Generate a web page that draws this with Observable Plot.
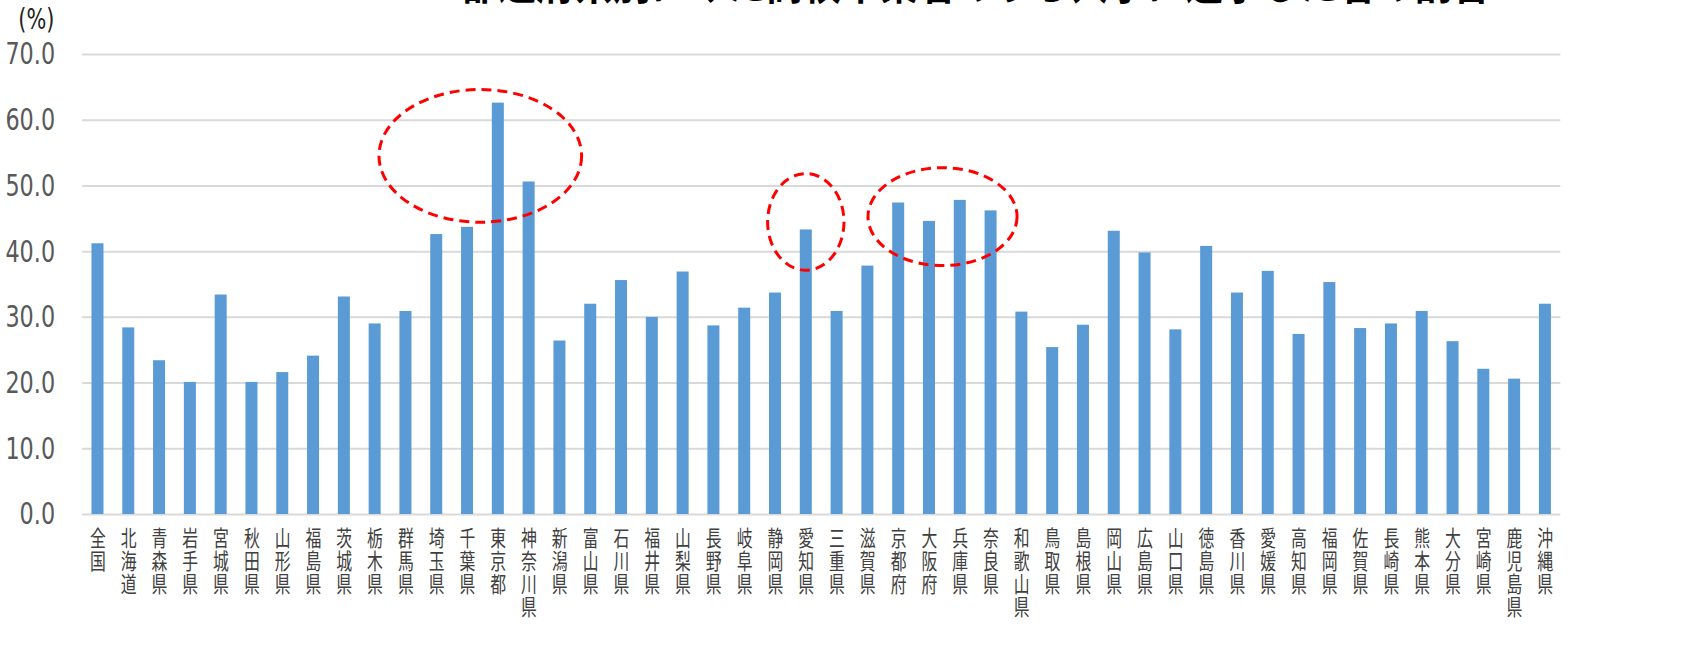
<!DOCTYPE html>
<html>
<head>
<meta charset="utf-8">
<script src="https://cdn.jsdelivr.net/npm/d3@7"></script>
<script src="https://cdn.jsdelivr.net/npm/@observablehq/plot@0.6"></script>
<style>
  html, body { margin: 0; padding: 0; background: #fff; }
  #chart { width: 1700px; height: 663px; overflow: hidden; }
</style>
</head>
<body>
<div id="chart"></div>
<script>
// ---- data ----
const prefectures = ["全国","北海道","青森県","岩手県","宮城県","秋田県","山形県","福島県","茨城県","栃木県","群馬県","埼玉県","千葉県","東京都","神奈川県","新潟県","富山県","石川県","福井県","山梨県","長野県","岐阜県","静岡県","愛知県","三重県","滋賀県","京都府","大阪府","兵庫県","奈良県","和歌山県","鳥取県","島根県","岡山県","広島県","山口県","徳島県","香川県","愛媛県","高知県","福岡県","佐賀県","長崎県","熊本県","大分県","宮崎県","鹿児島県","沖縄県"];
const rates = [41.2,28.4,23.4,20.1,33.4,20.1,21.6,24.1,33.1,29.0,30.9,42.6,43.7,62.6,50.6,26.4,32.0,35.6,30.0,36.9,28.7,31.4,33.7,43.3,30.9,37.8,47.4,44.6,47.8,46.2,30.8,25.4,28.8,43.1,39.8,28.1,40.8,33.7,37.0,27.4,35.3,28.3,29.0,30.9,26.3,22.1,20.6,32.0];
const yTicks = [0,10,20,30,40,50,60,70];
const titleText = "都道府県別にみた高校卒業者のうち大学に進学した者の割合";
const unitLabel = "(%)";
// highlighted groups (dashed rings): centre category, shift (in category steps), half-width (steps), value range
const ringCenter = ["千葉県","愛知県","大阪府"];
const ringShift  = [0.43, 0, 0.44];
const ringRadius = [3.29, 1.24, 2.42];
const ringLow    = [44.4, 37.1, 37.8];
const ringHigh   = [64.6, 51.8, 52.7];

// ---- chart ----
const SQUISH = 0.72;               // reference is horizontally condensed
const W = Math.round(1700 / SQUISH), H = 663;
const data = prefectures.map((p, i) => ({p, v: rates[i]}));
const px = v => Math.round(v / SQUISH);

const plot = Plot.plot({
  width: W,
  height: H,
  marginLeft: px(82),
  marginRight: W - px(1560),
  marginTop: 54,
  marginBottom: H - 514,
  style: {fontFamily: "'DejaVu Sans', sans-serif", background: "#fff", overflow: "visible"},
  x: {domain: prefectures, paddingInner: 0.61, paddingOuter: 0.305, label: null},
  y: {domain: [0, 70], label: null},
  marks: [
    Plot.ruleY(yTicks, {stroke: "#D9D9D9", strokeWidth: 2}),
    Plot.barY(data, {x: "p", y: "v", fill: "#5B9BD5"}),
    Plot.axisY(yTicks, {tickSize: 0, tickPadding: px(82) - px(55),
      tickFormat: d => d.toFixed(1), fontSize: 31, fontFamily: "'DejaVu Sans', sans-serif",
      color: "#595959", label: null}),
    Plot.axisX({tickSize: 0, tickPadding: 15, tickFormat: d => [...d].join("\n"),
      fontSize: 22, lineHeight: 1.05, fontFamily: "'Noto Sans CJK JP', sans-serif",
      color: "#404040", label: null}),
    Plot.text([unitLabel], {frameAnchor: "top-left", dx: px(36) - px(82), dy: -35,
      lineAnchor: "middle", textAnchor: "middle", fontSize: 29, fill: "#222",
      fontFamily: "'DejaVu Sans', sans-serif"}),
    Plot.text([titleText], {frameAnchor: "top-left", dx: px(975) - px(82), dy: -56,
      lineAnchor: "bottom", textAnchor: "middle", fontSize: 53, fontWeight: "bold",
      fontFamily: "'Noto Sans CJK JP', sans-serif", fill: "#000"})
  ]
});

// condense horizontally like the reference
plot.setAttribute("width", 1700);
plot.setAttribute("height", H);
plot.setAttribute("viewBox", `0 0 ${W} ${H}`);
plot.setAttribute("preserveAspectRatio", "none");

// dashed rings using the plot's own scales
const sx = plot.scale("x"), sy = plot.scale("y");
const step = sx.step ?? (sx.apply(prefectures[1]) - sx.apply(prefectures[0]));
const g = d3.select(plot).append("g")
  .attr("fill", "none").attr("stroke", "#FF0000").attr("stroke-width", 3)
  .attr("stroke-dasharray", "10,6");
ringCenter.forEach((c, i) => {
  const cx = sx.apply(c) + sx.bandwidth / 2 + ringShift[i] * step;
  const y1 = sy.apply(ringHigh[i]), y0 = sy.apply(ringLow[i]);
  g.append("ellipse")
    .attr("cx", cx).attr("cy", (y0 + y1) / 2)
    .attr("rx", ringRadius[i] * step).attr("ry", Math.abs(y0 - y1) / 2)
    .attr("vector-effect", "non-scaling-stroke");
});

document.getElementById("chart").appendChild(plot);
</script>
</body>
</html>
